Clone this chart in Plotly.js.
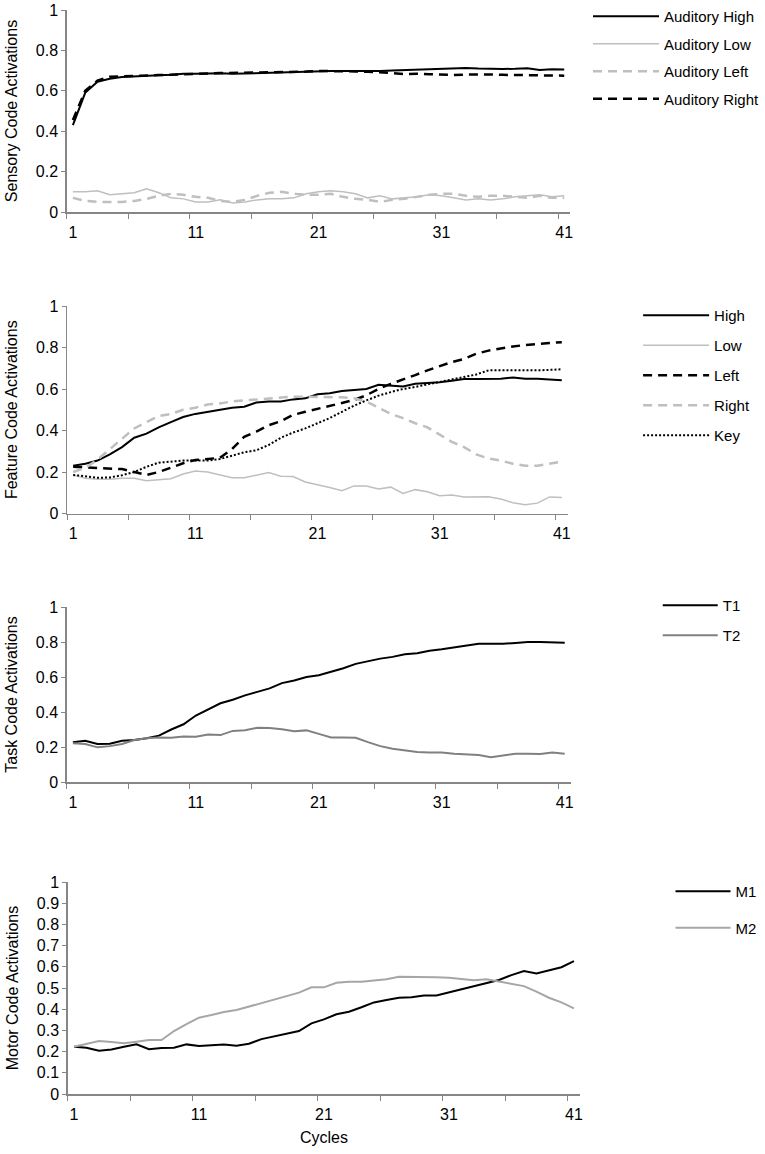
<!DOCTYPE html>
<html>
<head>
<meta charset="utf-8">
<script src="https://cdn.plot.ly/plotly-3.0.1.min.js"></script>
<style>html,body{margin:0;padding:0;background:#fff}#chart{width:765px;height:1154px}</style>
</head>
<body>
<div id="chart"></div>
<script>
// ---------- DATA ----------
var cycles = [];
for (var i = 1; i <= 41; i++) cycles.push(i);
var xTickVals = [1, 11, 21, 31, 41];
var xTickText = ["1", "11", "21", "31", "41"];

// Panel 1: Sensory codes
var audHigh  = [0.43,0.59,0.645,0.66,0.668,0.672,0.675,0.677,0.68,0.685,0.685,0.686,0.687,0.684,0.686,0.687,0.69,0.692,0.693,0.695,0.698,0.698,0.698,0.697,0.697,0.698,0.70,0.702,0.705,0.707,0.709,0.712,0.713,0.71,0.708,0.708,0.709,0.712,0.703,0.707,0.705];
var audLow   = [0.10,0.10,0.105,0.085,0.09,0.095,0.115,0.095,0.07,0.065,0.05,0.05,0.06,0.045,0.05,0.06,0.065,0.065,0.07,0.09,0.10,0.105,0.10,0.09,0.07,0.08,0.065,0.07,0.075,0.085,0.08,0.07,0.06,0.065,0.06,0.065,0.075,0.08,0.085,0.075,0.08];
var audLeft  = [0.07,0.055,0.05,0.05,0.05,0.055,0.065,0.08,0.09,0.085,0.075,0.07,0.055,0.05,0.06,0.08,0.095,0.10,0.09,0.085,0.085,0.09,0.075,0.065,0.06,0.05,0.06,0.065,0.075,0.085,0.09,0.09,0.08,0.075,0.08,0.08,0.075,0.07,0.08,0.07,0.07];
var audRight = [0.455,0.60,0.65,0.67,0.672,0.675,0.677,0.678,0.68,0.683,0.685,0.686,0.688,0.69,0.69,0.691,0.692,0.692,0.693,0.695,0.698,0.698,0.697,0.696,0.694,0.692,0.688,0.682,0.684,0.682,0.68,0.678,0.68,0.682,0.681,0.679,0.678,0.676,0.676,0.675,0.675];

// Panel 2: Feature codes
var featHigh  = [0.23,0.24,0.255,0.285,0.32,0.365,0.385,0.415,0.44,0.465,0.48,0.49,0.50,0.51,0.515,0.535,0.54,0.54,0.55,0.555,0.575,0.58,0.59,0.595,0.60,0.62,0.615,0.612,0.625,0.628,0.632,0.64,0.648,0.648,0.648,0.65,0.655,0.65,0.65,0.645,0.642];
var featLow   = [0.185,0.17,0.165,0.165,0.17,0.17,0.158,0.162,0.168,0.19,0.205,0.20,0.185,0.172,0.172,0.185,0.198,0.18,0.178,0.152,0.14,0.125,0.11,0.133,0.133,0.118,0.127,0.097,0.115,0.105,0.086,0.089,0.08,0.079,0.081,0.07,0.052,0.042,0.05,0.08,0.077];
var featLeft  = [0.225,0.222,0.218,0.215,0.214,0.20,0.186,0.20,0.22,0.242,0.258,0.262,0.268,0.31,0.37,0.395,0.425,0.445,0.475,0.49,0.505,0.52,0.532,0.547,0.57,0.60,0.625,0.645,0.667,0.69,0.71,0.73,0.745,0.77,0.785,0.796,0.805,0.812,0.818,0.822,0.825];
var featRight = [0.20,0.22,0.26,0.31,0.36,0.41,0.44,0.47,0.48,0.50,0.51,0.525,0.53,0.54,0.545,0.55,0.555,0.56,0.563,0.563,0.563,0.563,0.56,0.555,0.54,0.51,0.48,0.46,0.435,0.415,0.38,0.345,0.32,0.285,0.265,0.255,0.24,0.23,0.23,0.24,0.25];
var featKey   = [0.186,0.178,0.172,0.174,0.184,0.20,0.225,0.245,0.25,0.255,0.255,0.255,0.262,0.28,0.295,0.305,0.33,0.365,0.39,0.41,0.435,0.46,0.49,0.52,0.545,0.568,0.585,0.60,0.61,0.622,0.635,0.645,0.66,0.67,0.69,0.69,0.688,0.688,0.69,0.692,0.695];

// Panel 3: Task codes
var taskT1 = [0.227,0.236,0.217,0.219,0.236,0.24,0.25,0.265,0.30,0.33,0.38,0.415,0.45,0.47,0.495,0.515,0.535,0.565,0.58,0.60,0.61,0.63,0.65,0.675,0.69,0.705,0.715,0.73,0.736,0.75,0.758,0.768,0.779,0.79,0.79,0.79,0.795,0.80,0.80,0.80,0.796];
var taskT2 = [0.221,0.217,0.198,0.205,0.217,0.24,0.25,0.255,0.253,0.26,0.258,0.272,0.268,0.292,0.296,0.31,0.308,0.302,0.29,0.295,0.275,0.255,0.255,0.253,0.228,0.205,0.19,0.179,0.172,0.169,0.168,0.162,0.158,0.154,0.142,0.154,0.162,0.162,0.16,0.168,0.162];

// Panel 4: Motor codes
var motorM1 = [0.223,0.218,0.204,0.21,0.223,0.234,0.211,0.217,0.218,0.234,0.226,0.23,0.234,0.228,0.237,0.259,0.272,0.287,0.297,0.333,0.352,0.376,0.388,0.409,0.432,0.443,0.454,0.456,0.465,0.465,0.479,0.495,0.509,0.522,0.538,0.561,0.58,0.569,0.582,0.598,0.627];
var motorM2 = [0.223,0.237,0.25,0.245,0.239,0.247,0.255,0.255,0.297,0.33,0.36,0.373,0.387,0.396,0.413,0.428,0.445,0.462,0.478,0.503,0.503,0.525,0.529,0.529,0.534,0.541,0.553,0.553,0.552,0.551,0.548,0.543,0.537,0.541,0.53,0.522,0.509,0.483,0.454,0.432,0.404];

// ---------- STYLE ----------
var W = 765, H = 1154;
var FONT = "Liberation Sans, Arial, sans-serif";
var AX = "#868686";
var BLACK = "#000000", LGRAY = "#bfbfbf", MGRAY = "#808080", SGRAY = "#a6a6a6";

function px(x) { return x / W; }
function py(y) { return 1 - y / H; }

function tr(y, name, color, width, dash, ax, leg) {
  return {
    x: cycles, y: y, name: name, type: "scatter", mode: "lines",
    line: {color: color, width: width, dash: dash || "solid", shape: "linear"},
    xaxis: "x" + ax, yaxis: "y" + ax, legend: leg, legendgroup: name,
    hoverinfo: "skip"
  };
}

var data = [
  tr(audHigh,  "Auditory High",  BLACK, 2,   "solid",     "", "legend"),
  tr(audLow,   "Auditory Low",   LGRAY, 1.5, "solid",     "", "legend"),
  tr(audLeft,  "Auditory Left",  LGRAY, 2.5, "9px,6px",   "", "legend"),
  tr(audRight, "Auditory Right", BLACK, 2.5, "9px,6px",   "", "legend"),

  tr(featHigh,  "High",  BLACK, 2,   "solid",   "2", "legend2"),
  tr(featLow,   "Low",   LGRAY, 1.5, "solid",   "2", "legend2"),
  tr(featLeft,  "Left",  BLACK, 2.5, "9px,6px", "2", "legend2"),
  tr(featRight, "Right", LGRAY, 2.5, "9px,6px", "2", "legend2"),
  tr(featKey,   "Key",   BLACK, 2,   "2px,2px", "2", "legend2"),

  tr(taskT1, "T1", BLACK, 2, "solid", "3", "legend3"),
  tr(taskT2, "T2", MGRAY, 2, "solid", "3", "legend3"),

  tr(motorM1, "M1", BLACK, 2, "solid", "4", "legend4"),
  tr(motorM2, "M2", SGRAY, 2, "solid", "4", "legend4")
];

function xax(x0, x1, anchor, title) {
  var a = {
    domain: [px(x0), px(x1)], range: [0.5, 41.5], anchor: anchor,
    tickmode: "array", tickvals: xTickVals, ticktext: xTickText,
    ticks: "outside", ticklen: 5, tickcolor: "rgba(0,0,0,0)",
    minor: {tickmode: "array", tickvals: [0.5,5.5,10.5,15.5,20.5,25.5,30.5,35.5,40.5], ticks: "outside", ticklen: 5, tickcolor: AX, tickwidth: 1, showgrid: false},
    showline: true, linecolor: AX, linewidth: 1.5, showgrid: false, zeroline: false,
    tickfont: {family: FONT, size: 16, color: "#000"}, fixedrange: true
  };
  if (title) a.title = {text: title, font: {family: FONT, size: 16, color: "#000"}, standoff: 10};
  return a;
}
function yax(y0, y1, anchor, title, dtick) {
  return {
    domain: [py(y1), py(y0)], range: [0, 1], anchor: anchor,
    tickmode: "linear", tick0: 0, dtick: dtick,
    ticks: "outside", ticklen: 4, tickcolor: AX, tickwidth: 1,
    showline: true, linecolor: AX, linewidth: 1.5, showgrid: false, zeroline: false,
    tickfont: {family: FONT, size: 16, color: "#000"}, fixedrange: true,
    title: {text: title, font: {family: FONT, size: 16, color: "#000"}, standoff: 14}
  };
}
function leg(x, y, gap, iw) {
  return {x: px(x), y: py(y), xanchor: "left", yanchor: "top", bgcolor: "rgba(0,0,0,0)",
    font: {family: FONT, size: 15, color: "#000"}, traceorder: "grouped", tracegroupgap: gap, itemwidth: iw};
}

var layout = {
  width: W, height: H, margin: {l: 0, r: 0, t: 0, b: 0},
  paper_bgcolor: "#fff", plot_bgcolor: "#fff", showlegend: true,
  font: {family: FONT, size: 15, color: "#000"},
  xaxis:  xax(68, 581, "y"),
  yaxis:  yax(10, 212, "x", "Sensory Code Activations", 0.2),
  xaxis2: xax(68.3, 578.5, "y2"),
  yaxis2: yax(306, 513.5, "x2", "Feature Code Activations", 0.2),
  xaxis3: xax(68, 581.5, "y3"),
  yaxis3: yax(607, 782, "x3", "Task Code Activations", 0.2),
  xaxis4: xax(69, 591, "y4", "Cycles"),
  yaxis4: yax(882, 1094, "x4", "Motor Code Activations", 0.1),
  legend:  leg(599, 0, 5, 66),
  legend2: leg(650, 299, 7.5, 66),
  legend3: leg(670, 589, 7.5, 55),
  legend4: leg(683, 875, 14, 55)
};

Plotly.newPlot("chart", data, layout, {staticPlot: true, displayModeBar: false});
</script>
</body>
</html>
